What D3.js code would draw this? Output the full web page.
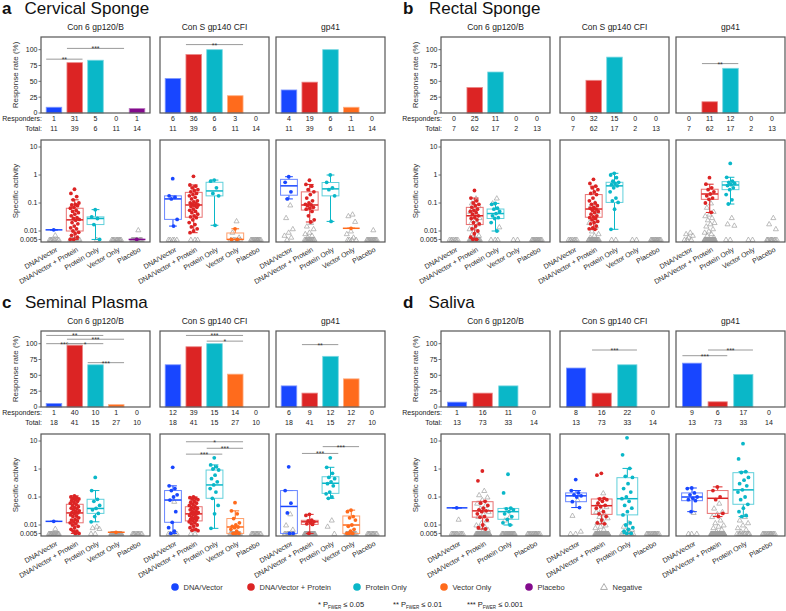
<!DOCTYPE html>
<html><head><meta charset="utf-8">
<script src="https://cdn.jsdelivr.net/npm/d3@7"></script>
<style>body{margin:0;background:#fff}text{font-family:"Liberation Sans",Arial,sans-serif}</style>
</head><body><svg id="c" width="786" height="611"></svg>
<script>
// ---------- data ----------
const panelLetters = ["a","b","c","d"];
const panelTitles = ["Cervical Sponge","Rectal Sponge","Seminal Plasma","Saliva"];
const antigens = ["Con 6 gp120/B","Con S gp140 CFI","gp41"];
const groups5 = ["DNA/Vector","DNA/Vector + Protein","Protein Only","Vector Only","Placebo"];
const groups4 = ["DNA/Vector","DNA/Vector + Protein","Protein Only","Placebo"];
const groupColors = ["#1846ff","#dc2424","#0ab7c8","#ff6b1c","#830b8d"];
const rateTicks = [0,25,50,75,100];
const activityTicks = [10,1,0.1,0.01,0.005];
const activityTickLabels = ["10","1","0.1","0.01","0.005"];
const legendLabels = ["DNA/Vector","DNA/Vector + Protein","Protein Only","Vector Only","Placebo","Negative"];
const footLabels = [["* P","≤ 0.05"],["** P","≤ 0.01"],["*** P","≤ 0.001"]];

// Panel a: Cervical Sponge
const respA = [[1,31,5,0,1],[6,36,6,3,0],[4,19,6,1,0]];
const totalA = [11,39,6,11,14];
const boxA = [
 [[0.011,0.011,0.011,0.011,0.011],[0.005,0.01,0.025,0.065,0.13],[0.005,0.017,0.028,0.032,0.058],null,[0.005,0.005,0.005,0.005,0.005]],
 [[0.015,0.026,0.14,0.18,0.18],[0.0087,0.031,0.085,0.24,0.44],[0.016,0.18,0.27,0.55,0.66],[0.005,0.005,0.005,0.0085,0.012],null],
 [[0.14,0.19,0.41,0.7,0.87],[0.021,0.056,0.085,0.25,0.46],[0.022,0.18,0.32,0.54,1.0],[0.0125,0.0125,0.0125,0.0125,0.0125],null]
];
const posA = [
 [[0.011],
  [0.31,0.22,0.17,0.13,0.1,0.09,0.085,0.08,0.07,0.065,0.055,0.05,0.045,0.04,0.035,0.03,0.028,0.026,0.024,0.02,0.018,0.015,0.013,0.012,0.01,0.009,0.008,0.007,0.006,0.005,0.005],
  [0.058,0.032,0.028,0.017,0.005],[],[0.005]],
 [[0.74,0.18,0.16,0.14,0.026,0.015],
  [0.9,0.44,0.4,0.35,0.3,0.28,0.25,0.22,0.2,0.18,0.16,0.14,0.12,0.11,0.1,0.095,0.09,0.085,0.08,0.075,0.07,0.06,0.055,0.05,0.045,0.04,0.035,0.032,0.03,0.025,0.02,0.017,0.014,0.012,0.01,0.0087],
  [0.66,0.6,0.35,0.22,0.18,0.016],[0.012,0.005,0.005],[]],
 [[0.87,0.55,0.25,0.14],
  [0.65,0.46,0.4,0.3,0.25,0.2,0.15,0.12,0.1,0.09,0.085,0.08,0.07,0.065,0.06,0.05,0.035,0.025,0.021],
  [1.0,0.55,0.35,0.3,0.18,0.022],[0.0125],[]]
];
const negA = [
 [[0.0072],[],[],[],[0.011]],
 [[],[],[],[0.023,0.009,0.006],[]],
 [[0.085,0.03,0.012,0.009,0.007,0.006],[0.02,0.015,0.012,0.009,0.008,0.007,0.006],[],[0.04,0.035,0.022,0.01,0.008,0.006],[0.011]]
];
const sigBarA = [[0,0,1,85,"**"],[0,1,3,102,"***"],[1,1,3,108,"**"]];
const sigBoxA = [];

// Panel b: Rectal Sponge
const respB = [[0,25,11,0,0],[0,32,15,0,0],[0,11,12,0,0]];
const totalB = [7,62,17,2,13];
const boxB = [
 [null,[0.005,0.017,0.035,0.07,0.15],[0.01,0.028,0.042,0.061,0.097],null,null],
 [null,[0.0115,0.031,0.061,0.2,0.4],[0.0115,0.105,0.41,0.55,1.15],null,null],
 [null,[0.046,0.135,0.21,0.31,0.47],[0.092,0.3,0.44,0.58,0.83],null,null]
];
const posB = [
 [[],
  [0.28,0.15,0.12,0.1,0.09,0.08,0.07,0.06,0.055,0.05,0.045,0.04,0.035,0.03,0.028,0.025,0.02,0.018,0.015,0.012,0.01,0.008,0.006,0.005,0.005],
  [0.097,0.09,0.065,0.06,0.05,0.042,0.035,0.03,0.028,0.02,0.01],[],[]],
 [[],
  [0.7,0.5,0.4,0.35,0.3,0.25,0.22,0.2,0.15,0.12,0.1,0.09,0.08,0.07,0.065,0.06,0.055,0.05,0.045,0.04,0.035,0.032,0.03,0.028,0.025,0.022,0.02,0.018,0.015,0.013,0.012,0.0115],
  [1.15,1.0,0.8,0.6,0.55,0.5,0.45,0.41,0.35,0.25,0.15,0.12,0.105,0.06,0.0115],[],[]],
 [[],
  [0.8,0.47,0.35,0.3,0.25,0.21,0.18,0.15,0.135,0.1,0.046],
  [2.6,0.83,0.6,0.55,0.5,0.45,0.42,0.35,0.3,0.2,0.13,0.092],[],[]]
];
const negB = [
 [[],[0.15,0.1,0.08,0.06,0.05,0.04,0.035,0.03,0.025,0.02,0.018,0.015,0.012,0.01,0.008,0.007,0.006],[0.15,0.1,0.014],[],[]],
 [[],[0.1,0.08,0.05,0.03,0.02,0.015,0.01,0.008,0.007,0.006],[],[],[]],
 [[0.009,0.008,0.007,0.006],[0.1,0.07,0.05,0.04,0.035,0.03,0.025,0.02,0.018,0.015,0.012,0.01,0.009,0.008,0.007,0.006],[0.03,0.018,0.016],[],[0.03,0.018,0.012]]
];
const sigBarB = [[2,1,2,78,"**"]];
const sigBoxB = [];

// Panel c: Seminal Plasma
const respC = [[1,40,10,1,0],[12,39,15,14,0],[6,9,12,12,0]];
const totalC = [18,41,15,27,10];
const boxC = [
 [[0.0135,0.0135,0.0135,0.0135,0.0135],[0.005,0.012,0.027,0.055,0.11],[0.013,0.026,0.039,0.083,0.17],[0.0055,0.0055,0.0055,0.0055,0.0055],null],
 [[0.005,0.0125,0.078,0.17,0.25],[0.0063,0.014,0.025,0.045,0.1],[0.0076,0.09,0.27,0.92,1.4],[0.005,0.005,0.0085,0.017,0.032],null],
 [[0.005,0.005,0.046,0.17,0.17],[0.005,0.0105,0.013,0.0147,0.024],[0.09,0.135,0.31,0.53,1.15],[0.005,0.005,0.01,0.021,0.034],null]
];
const posC = [
 [[0.0135],
  [0.11,0.1,0.095,0.09,0.085,0.08,0.075,0.07,0.065,0.06,0.055,0.05,0.045,0.042,0.04,0.038,0.035,0.032,0.03,0.028,0.027,0.025,0.023,0.021,0.02,0.018,0.016,0.015,0.014,0.013,0.012,0.011,0.01,0.009,0.008,0.007,0.006,0.006,0.005,0.005],
  [0.5,0.17,0.083,0.07,0.05,0.039,0.035,0.026,0.02,0.013],[0.0055],[]],
 [[1.15,0.25,0.2,0.17,0.12,0.1,0.078,0.03,0.0125,0.008,0.006,0.005],
  [0.1,0.095,0.09,0.085,0.08,0.07,0.065,0.06,0.055,0.05,0.045,0.042,0.04,0.038,0.035,0.032,0.03,0.028,0.027,0.026,0.025,0.024,0.022,0.02,0.019,0.018,0.017,0.016,0.015,0.014,0.013,0.012,0.011,0.01,0.009,0.008,0.007,0.0065,0.0063],
  [2.5,1.4,1.2,1.0,0.92,0.6,0.45,0.35,0.27,0.2,0.15,0.09,0.05,0.025,0.0076],
  [0.063,0.032,0.025,0.017,0.012,0.01,0.009,0.0085,0.008,0.007,0.006,0.005,0.005,0.005],[]],
 [[1.2,0.17,0.06,0.027,0.005,0.005],
  [0.024,0.022,0.015,0.014,0.013,0.012,0.011,0.0105,0.005],
  [2.5,1.15,0.7,0.5,0.45,0.35,0.3,0.25,0.15,0.13,0.1,0.09],
  [0.034,0.03,0.02,0.018,0.015,0.01,0.009,0.007,0.006,0.005,0.005,0.005],[]]
];
const negC = [
 [[0.0075],[],[0.009,0.008,0.0075],[],[]],
 [[0.07],[],[],[],[]],
 [[0.025,0.01,0.007],[],[0.015,0.009],[],[]]
];
const sigBarC = [[0,0,2,113,"**"],[0,1,3,107,"***"],[0,0,1,100,"***"],[0,1,2,100,"*"],[0,2,3,70,"***"],
                 [1,1,3,113,"***"],[1,2,3,104,"*"],[2,1,2,98.5,"**"]];
const sigBoxC = [[1,1,3,9.4,"*"],[1,2,3,5.5,"***"],[1,1,2,3.4,"***"],[2,2,3,6.3,"***"],[2,1,2,3.6,"***"]];

// Panel d: Saliva
const respD = [[1,16,11,0],[8,16,22,0],[9,6,17,0]];
const totalD = [13,73,33,14];
const boxD = [
 [[0.041,0.041,0.041,0.041,0.041],[0.0072,0.019,0.032,0.068,0.07],[0.01,0.016,0.03,0.039,0.04],null],
 [[0.042,0.068,0.11,0.14,0.17],[0.011,0.024,0.049,0.085,0.09],[0.005,0.023,0.087,0.49,1.05],null],
 [[0.03,0.074,0.1,0.14,0.21],[0.02,0.026,0.09,0.17,0.23],[0.02,0.055,0.18,0.74,0.8],null]
];
const posD = [
 [[0.041],
  [0.85,0.38,0.07,0.06,0.05,0.04,0.035,0.032,0.03,0.025,0.02,0.019,0.015,0.01,0.008,0.0072],
  [0.65,0.14,0.04,0.038,0.035,0.03,0.025,0.02,0.016,0.012,0.01],[]],
 [[0.42,0.17,0.14,0.12,0.11,0.1,0.068,0.042],
  [0.7,0.6,0.09,0.085,0.08,0.07,0.06,0.05,0.045,0.04,0.03,0.025,0.02,0.015,0.012,0.011],
  [13,3.2,1.05,0.55,0.5,0.3,0.2,0.15,0.1,0.087,0.07,0.05,0.04,0.03,0.023,0.012,0.01,0.008,0.007,0.006,0.005,0.005],[]],
 [[0.21,0.2,0.14,0.12,0.1,0.09,0.08,0.074,0.03],
  [0.23,0.17,0.1,0.08,0.026,0.02],
  [8,2.3,0.8,0.75,0.5,0.4,0.3,0.25,0.18,0.15,0.1,0.08,0.055,0.04,0.03,0.022,0.02],[]]
];
const negD = [
 [[0.016],[0.17,0.12,0.1,0.08,0.06,0.05,0.04,0.03,0.025,0.02,0.015,0.012,0.01,0.009,0.008,0.007,0.006],[0.02,0.015],[]],
 [[0.08,0.022,0.006],[0.14,0.06,0.045,0.035,0.03,0.025,0.02,0.018,0.015,0.012,0.01,0.009,0.008,0.007,0.006],[0.012,0.009,0.007,0.006],[]],
 [[0.028],[0.06,0.04,0.03,0.025,0.02,0.015,0.012,0.01,0.009,0.008,0.007,0.006],[0.02,0.015,0.012,0.01,0.008,0.007,0.006],[]]
];
const sigBarD = [[1,1,2,90,"***"],[2,0,1,81,"***"],[2,1,2,90,"***"]];
const sigBoxD = [];

// ---------- drawing ----------
const svg = d3.select("#c");
const FX = [41,160,276], FW = 109;
const FLOOR = 0.005;
const colorOf = g => groupColors[groups5.indexOf(g)];
const jit = i => (((i + 1) * 0.6180339887) % 1) - 0.5;
const lighten = (c, t) => d3.interpolateRgb(c, "#ffffff")(t);

function drawPanel(p) {
  const g = svg.append("g");
  const yBar = d3.scaleLinear().domain([0,120]).range([p.oy+113, p.oy+37]);
  const yBox = d3.scaleLog().domain([0.00405,17.8]).range([p.oy+242, p.oy+140]);

  g.append("text").attr("x", p.ox+p.lx).attr("y", p.oy+14).attr("font-size",17).attr("font-weight","bold").attr("fill","#111").text(p.letter);
  g.append("text").attr("x", p.ox+p.tx).attr("y", p.oy+14).attr("font-size",17).attr("fill","#111").text(p.title);

  // axis titles
  g.append("text").attr("transform",`translate(${p.ox+18},${p.oy+75}) rotate(-90)`).attr("text-anchor","middle").attr("font-size",8).attr("fill","#333").text("Response rate (%)");
  g.append("text").attr("transform",`translate(${p.ox+18},${p.oy+191}) rotate(-90)`).attr("text-anchor","middle").attr("font-size",8).attr("fill","#333").text("Specific activity");

  // Responders / Total labels
  g.append("text").attr("x",p.ox+42).attr("y",p.oy+121).attr("text-anchor","end").attr("font-size",7).attr("fill","#222").text("Responders:");
  g.append("text").attr("x",p.ox+42).attr("y",p.oy+131).attr("text-anchor","end").attr("font-size",7).attr("fill","#222").text("Total:");

  antigens.forEach((ag, ai) => {
    const fx = p.ox + FX[ai];
    const x = d3.scaleBand().domain(p.groups).range([fx, fx+FW]).padding(0.25);
    const bw = x.bandwidth();
    const cx = gn => x(gn) + bw/2;

    g.append("text").attr("x", fx+FW/2).attr("y", p.oy+30).attr("text-anchor","middle").attr("font-size",8.5).attr("fill","#222").text(ag);

    // bars
    p.groups.forEach((gn, gi) => {
      const rate = p.resp[ai][gi] / p.total[gi] * 100;
      const col = colorOf(gn);
      if (rate > 0) {
        g.append("rect").attr("x", x(gn)).attr("width", bw)
          .attr("y", yBar(rate)).attr("height", yBar(0)-yBar(rate))
          .attr("fill", col).attr("stroke", lighten(col,0.45)).attr("stroke-width",0.8);
      }
      g.append("text").attr("x", cx(gn)).attr("y", p.oy+121).attr("text-anchor","middle").attr("font-size",7).attr("fill","#222").text(p.resp[ai][gi]);
      g.append("text").attr("x", cx(gn)).attr("y", p.oy+131).attr("text-anchor","middle").attr("font-size",7).attr("fill","#222").text(p.total[gi]);
    });
    // significance (bars)
    p.sigBar.filter(s => s[0]===ai).forEach(s => {
      const x1 = x(p.groups[s[1]]), x2 = x(p.groups[s[2]]) + bw, yy = yBar(s[3]);
      g.append("line").attr("x1",x1).attr("x2",x2).attr("y1",yy).attr("y2",yy).attr("stroke","#9a9a9a").attr("stroke-width",1);
      g.append("text").attr("x",(x1+x2)/2).attr("y",yy+3).attr("text-anchor","middle").attr("font-size",7).attr("fill","#333").text(s[4]);
    });
    g.append("rect").attr("x",fx).attr("y",p.oy+37).attr("width",FW).attr("height",76).attr("fill","none").attr("stroke","#555").attr("stroke-width",1.2);

    // box plots
    p.groups.forEach((gn, gi) => {
      const col = colorOf(gn);
      const c = cx(gn);
      const extra = p.neg[ai][gi];
      const nFloor = p.total[gi] - p.resp[ai][gi] - extra.length;
      const negVals = extra.slice();
      for (let k = 0; k < nFloor; k++) negVals.push(FLOOR);
      negVals.forEach((v, i) => {
        g.append("path").attr("d", d3.symbol(d3.symbolTriangle, 11)())
          .attr("transform", `translate(${c + jit(i)*bw*0.7},${yBox(v)+0.5})`)
          .attr("fill","none").attr("stroke","#a0a0a0").attr("stroke-width",0.7);
      });
      const b = p.box[ai][gi];
      if (b) {
        const w = bw*1.08, cw = bw*0.5;
        g.append("line").attr("x1",c).attr("x2",c).attr("y1",yBox(b[0])).attr("y2",yBox(b[1])).attr("stroke",col).attr("stroke-width",1);
        g.append("line").attr("x1",c).attr("x2",c).attr("y1",yBox(b[3])).attr("y2",yBox(b[4])).attr("stroke",col).attr("stroke-width",1);
        [b[0], b[4]].forEach(v => g.append("line").attr("x1",c-cw/2).attr("x2",c+cw/2).attr("y1",yBox(v)).attr("y2",yBox(v)).attr("stroke",col).attr("stroke-width",1));
        g.append("rect").attr("x",c-w/2).attr("width",w).attr("y",yBox(b[3])).attr("height",yBox(b[1])-yBox(b[3]))
          .attr("fill","none").attr("stroke",lighten(col,0.35)).attr("stroke-width",1);
        g.append("line").attr("x1",c-w/2).attr("x2",c+w/2).attr("y1",yBox(b[2])).attr("y2",yBox(b[2])).attr("stroke",col).attr("stroke-width",1.5);
      }
      p.pos[ai][gi].forEach((v, i) => {
        g.append("circle").attr("cx", c + jit(i+3)*bw*0.6).attr("cy", yBox(v)).attr("r",1.9).attr("fill",col);
      });
      // x labels
      g.append("text").attr("transform",`translate(${c+4},${p.oy+251}) rotate(-30)`).attr("text-anchor","end").attr("font-size",7).attr("fill","#222").text(gn);
    });
    p.sigBox.filter(s => s[0]===ai).forEach(s => {
      const x1 = x(p.groups[s[1]]), x2 = x(p.groups[s[2]]) + bw, yy = yBox(s[3]);
      g.append("line").attr("x1",x1).attr("x2",x2).attr("y1",yy).attr("y2",yy).attr("stroke","#9a9a9a").attr("stroke-width",1);
      g.append("text").attr("x",(x1+x2)/2).attr("y",yy+3).attr("text-anchor","middle").attr("font-size",7).attr("fill","#333").text(s[4]);
    });
    g.append("rect").attr("x",fx).attr("y",p.oy+140).attr("width",FW).attr("height",102).attr("fill","none").attr("stroke","#555").attr("stroke-width",1.2);

    if (ai === 0) {
      rateTicks.forEach(t => {
        g.append("line").attr("x1",fx-2.5).attr("x2",fx).attr("y1",yBar(t)).attr("y2",yBar(t)).attr("stroke","#555").attr("stroke-width",0.8);
        g.append("text").attr("x",fx-3.5).attr("y",yBar(t)+2.4).attr("text-anchor","end").attr("font-size",7).attr("fill","#222").text(t);
      });
      activityTicks.forEach((t, ti) => {
        g.append("line").attr("x1",fx-2.5).attr("x2",fx).attr("y1",yBox(t)).attr("y2",yBox(t)).attr("stroke","#555").attr("stroke-width",0.8);
        g.append("text").attr("x",fx-3.5).attr("y",yBox(t)+2.4).attr("text-anchor","end").attr("font-size",7).attr("fill","#222").text(activityTickLabels[ti]);
      });
    }
  });
}

const panels = [
 {letter:panelLetters[0], title:panelTitles[0], ox:0, oy:0, lx:2, tx:24.5, groups:groups5, resp:respA, total:totalA, box:boxA, pos:posA, neg:negA, sigBar:sigBarA, sigBox:sigBoxA},
 {letter:panelLetters[1], title:panelTitles[1], ox:400, oy:0, lx:3, tx:29, groups:groups5, resp:respB, total:totalB, box:boxB, pos:posB, neg:negB, sigBar:sigBarB, sigBox:sigBoxB},
 {letter:panelLetters[2], title:panelTitles[2], ox:0, oy:294, lx:2, tx:25, groups:groups5, resp:respC, total:totalC, box:boxC, pos:posC, neg:negC, sigBar:sigBarC, sigBox:sigBoxC},
 {letter:panelLetters[3], title:panelTitles[3], ox:400, oy:294, lx:3, tx:28.5, groups:groups4, resp:respD, total:totalD, box:boxD, pos:posD, neg:negD, sigBar:sigBarD, sigBox:sigBoxD}
];
panels.forEach(drawPanel);

// legend
const legX = [175, 251, 357, 444, 529, 604];
const lg = svg.append("g");
legendLabels.forEach((l, i) => {
  if (i < 5) lg.append("circle").attr("cx",legX[i]).attr("cy",587).attr("r",3.8).attr("fill",groupColors[i]);
  else lg.append("path").attr("d",d3.symbol(d3.symbolTriangle,20)()).attr("transform",`translate(${legX[i]},587.5)`).attr("fill","none").attr("stroke","#999").attr("stroke-width",0.8);
  lg.append("text").attr("x",legX[i]+8.5).attr("y",589.8).attr("font-size",7.5).attr("fill","#333").text(l);
});
const footX = [318, 393, 467];
footLabels.forEach((f, i) => {
  const t = lg.append("text").attr("x",footX[i]).attr("y",607).attr("font-size",7.5).attr("fill","#222");
  t.append("tspan").text(f[0]);
  t.append("tspan").attr("font-size",4.5).attr("dy",1.8).text("FWER");
  t.append("tspan").attr("dy",-1.8).text(" " + f[1]);
});
</script></body></html>
